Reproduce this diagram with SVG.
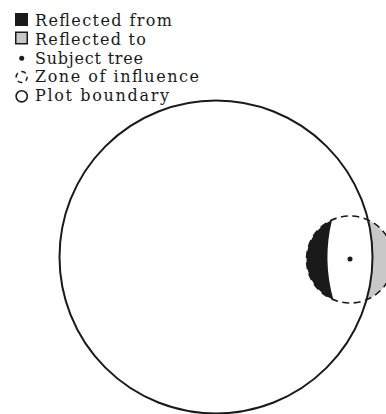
<svg xmlns="http://www.w3.org/2000/svg" width="386" height="414" viewBox="0 0 386 414">
<style>
.lbl{font-family:"DejaVu Serif","Liberation Serif",serif;font-size:16px;fill:#1a1a1a}
.plot{fill:none;stroke:#1a1a1a;stroke-width:2}
.zone{fill:none;stroke:#1a1a1a;stroke-width:1.6;stroke-dasharray:7 4.5}
.from{fill:#1a1a1a}
.to{fill:#c8c8c8}
</style>
<rect width="386" height="414" fill="#fff"/>
<g id="legend">
<rect x="15.5" y="13.5" width="12" height="12" fill="#1a1a1a" stroke="#1a1a1a"/>
<rect x="15.75" y="32.25" width="11.5" height="11.5" fill="#c8c8c8" stroke="#1a1a1a" stroke-width="1.5"/>
<circle cx="21.7" cy="58.3" r="2.5" fill="#1a1a1a"/>
<circle cx="21.7" cy="77" r="5.5" fill="none" stroke="#1a1a1a" stroke-width="1.5" stroke-dasharray="5 3.6" stroke-dashoffset="1"/>
<circle cx="21.7" cy="96.3" r="5.6" fill="none" stroke="#1a1a1a" stroke-width="1.6"/>
<text class="lbl" x="35" y="26" textLength="137">Reflected from</text>
<text class="lbl" x="35" y="44.75" textLength="111">Reflected to</text>
<text class="lbl" x="35" y="63.5" textLength="108">Subject tree</text>
<text class="lbl" x="35" y="82.25" textLength="164">Zone of influence</text>
<text class="lbl" x="35" y="101" textLength="134">Plot boundary</text>
</g>
<g id="reflected-from">
<path class="from" d="M332 219.9 A43.5 43.5 0 0 0 333.4 299.7 A156.5 156.5 0 0 1 332 219.9 Z"/>
</g>
<g id="reflected-to">
<path class="to" d="M368 219.9 A43.5 43.5 0 0 1 366.6 299.7 A156.5 156.5 0 0 0 368 219.9 Z"/>
</g>
<g id="zone-of-influence">
<circle class="zone" cx="350" cy="259.5" r="43.5"/>
</g>
<g id="plot-boundary">
<circle class="plot" cx="216" cy="257" r="156.5"/>
</g>
<g id="subject-tree">
<circle cx="350" cy="259" r="2.5" fill="#1a1a1a"/>
</g>
</svg>
